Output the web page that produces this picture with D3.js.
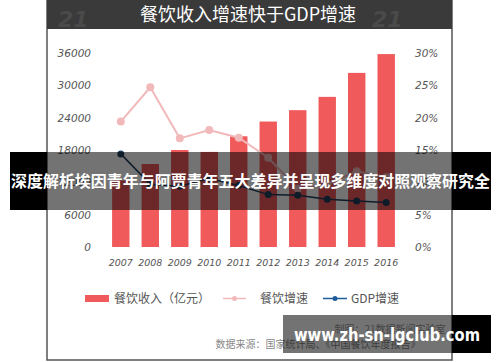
<!DOCTYPE html>
<html>
<head>
<meta charset="utf-8">
<script src="https://cdn.jsdelivr.net/npm/d3@7.9.0/dist/d3.min.js"></script>
<style>
  body { margin: 0; background: #fff; }
  svg { display: block; }
  .axis text { font-family: "DejaVu Sans", sans-serif; font-style: italic; fill: #555; }
  .cjk { font-family: "Noto Sans CJK SC", sans-serif; }
</style>
</head>
<body>
<svg id="chart" width="500" height="362"></svg>
<script>
const years = ['2007', '2008', '2009', '2010', '2011', '2012', '2013', '2014', '2015', '2016'];
const revenue = [12352, 15404, 17998, 17648, 20543, 23283, 25392, 27860, 32310, 35799];
const revenueGrowth = [19.4, 24.7, 16.8, 18.1, 16.9, 13.8, 9.0, 9.7, 11.7, 10.8];
const gdpGrowth = [14.4, 9.7, 9.4, 10.6, 9.5, 8.1, 8.0, 7.4, 7.1, 6.9];
const leftTicks = [0, 6000, 12000, 18000, 24000, 30000, 36000];
const rightTicks = [0, 5, 10, 15, 20, 25, 30];

const svg = d3.select('#chart');

// card + header
svg.append('rect')
  .attr('x', 47).attr('y', -2).attr('width', 405).attr('height', 362)
  .attr('fill', '#fff').attr('stroke', '#555').attr('stroke-width', 1.5);
svg.append('rect')
  .attr('x', 47).attr('y', 0).attr('width', 405).attr('height', 29)
  .attr('fill', '#3a3a3a');
svg.append('text')
  .attr('x', 58).attr('y', 27)
  .attr('font-family', 'DejaVu Sans').attr('font-style', 'italic').attr('font-weight', 'bold')
  .attr('font-size', 22).attr('fill', '#4a4a4a')
  .text('21');
svg.append('text')
  .attr('x', 372).attr('y', 27)
  .attr('font-family', 'DejaVu Sans').attr('font-style', 'italic').attr('font-weight', 'bold')
  .attr('font-size', 22).attr('fill', '#4a4a4a')
  .text('21');
svg.append('text')
  .attr('class', 'cjk')
  .attr('x', 248).attr('y', 21)
  .attr('text-anchor', 'middle')
  .attr('font-size', 18).attr('fill', '#fff')
  .text('餐饮收入增速快于GDP增速');

// scales
const x = d3.scaleBand().domain(years).range([100, 407]).padding(0.41);
const yL = d3.scaleLinear().domain([0, 36000]).range([247, 53]);
const yR = d3.scaleLinear().domain([0, 30]).range([247, 53]);

// axes
const leftAxis = svg.append('g')
  .attr('class', 'axis')
  .attr('transform', 'translate(91,0)')
  .call(d3.axisLeft(yL).tickValues(leftTicks).tickSize(0).tickPadding(0).tickFormat(d3.format('d')));
leftAxis.select('.domain').remove();
leftAxis.selectAll('text').attr('font-size', 10.5);

const rightAxis = svg.append('g')
  .attr('class', 'axis')
  .attr('transform', 'translate(415,0)')
  .call(d3.axisRight(yR).tickValues(rightTicks).tickSize(0).tickPadding(0).tickFormat(d => d + '%'));
rightAxis.select('.domain').remove();
rightAxis.selectAll('text').attr('font-size', 10.5);

const bottomAxis = svg.append('g')
  .attr('class', 'axis')
  .attr('transform', 'translate(0,257)')
  .call(d3.axisBottom(x).tickSize(0).tickPadding(0));
bottomAxis.select('.domain').remove();
bottomAxis.selectAll('text').attr('font-size', 9.5).attr('dy', '0.9em');

// bars
svg.append('g').selectAll('rect')
  .data(years)
  .join('rect')
  .attr('x', d => x(d))
  .attr('y', (d, i) => yL(revenue[i]))
  .attr('width', x.bandwidth())
  .attr('height', (d, i) => yL(0) - yL(revenue[i]))
  .attr('fill', '#f05a5a');

const cx = d => x(d) + x.bandwidth() / 2;

// pink line
const pinkLine = d3.line().x(d => cx(d)).y((d, i) => yR(revenueGrowth[i]));
svg.append('path')
  .attr('d', pinkLine(years))
  .attr('fill', 'none').attr('stroke', '#f2b9bb').attr('stroke-width', 2);
svg.append('g').selectAll('circle')
  .data(years)
  .join('circle')
  .attr('cx', cx)
  .attr('cy', (d, i) => yR(revenueGrowth[i]))
  .attr('r', 4)
  .attr('fill', '#f2b9bb');

// blue line
const blueLine = d3.line().x(d => cx(d)).y((d, i) => yR(gdpGrowth[i]));
svg.append('path')
  .attr('d', blueLine(years))
  .attr('fill', 'none').attr('stroke', '#1f3d5c').attr('stroke-width', 1.5);
svg.append('g').selectAll('circle')
  .data(years)
  .join('circle')
  .attr('cx', cx)
  .attr('cy', (d, i) => yR(gdpGrowth[i]))
  .attr('r', 3.5)
  .attr('fill', '#1f3d5c');

// legend
const legend = svg.append('g').attr('class', 'cjk').attr('font-size', 12).attr('fill', '#555');
legend.append('rect').attr('x', 85).attr('y', 295).attr('width', 24).attr('height', 7).attr('fill', '#f05a5a');
legend.append('text').attr('x', 114).attr('y', 302.5).text('餐饮收入（亿元）');
legend.append('line').attr('x1', 223).attr('x2', 246).attr('y1', 298.5).attr('y2', 298.5)
  .attr('stroke', '#f2b9bb').attr('stroke-width', 1.5);
legend.append('circle').attr('cx', 234.5).attr('cy', 298.5).attr('r', 2.5).attr('fill', '#f2b9bb');
legend.append('text').attr('x', 260).attr('y', 302.5).text('餐饮增速');
legend.append('line').attr('x1', 323).attr('x2', 347).attr('y1', 298.5).attr('y2', 298.5)
  .attr('stroke', '#1f5c9c').attr('stroke-width', 1.5);
legend.append('circle').attr('cx', 335).attr('cy', 298.5).attr('r', 2.5).attr('fill', '#1f5c9c');
legend.append('text').attr('x', 351).attr('y', 302.5).text('GDP增速');

// credits
svg.append('text').attr('class', 'cjk')
  .attr('x', 390).attr('y', 333).attr('text-anchor', 'middle')
  .attr('font-size', 10).attr('fill', '#999')
  .text('制图：21数据新闻实验室');
svg.append('text').attr('class', 'cjk')
  .attr('x', 318).attr('y', 348).attr('text-anchor', 'middle')
  .attr('font-size', 10).attr('fill', '#888')
  .text('数据来源：国家统计局、《中国餐饮年度报告》');

// overlay banner
svg.append('rect').attr('x', 10).attr('y', 152).attr('width', 37).attr('height', 58).attr('fill', '#000');
svg.append('rect').attr('x', 452).attr('y', 152).attr('width', 39).attr('height', 58).attr('fill', '#000');
svg.append('rect').attr('x', 47).attr('y', 152).attr('width', 405).attr('height', 58)
  .attr('fill', '#000').attr('opacity', 0.55);
svg.append('text').attr('class', 'cjk')
  .attr('x', 250.5).attr('y', 187).attr('text-anchor', 'middle')
  .attr('font-size', 15.5).attr('font-weight', 'bold').attr('fill', '#fff')
  .attr('textLength', 479).attr('lengthAdjust', 'spacingAndGlyphs')
  .text('深度解析埃因青年与阿贾青年五大差异并呈现多维度对照观察研究全');

// watermark box
svg.append('rect').attr('x', 452).attr('y', 315).attr('width', 39).attr('height', 38).attr('fill', '#000');
svg.append('rect').attr('x', 283).attr('y', 315).attr('width', 169).attr('height', 38)
  .attr('fill', '#000').attr('opacity', 0.55);
svg.append('text')
  .attr('x', 387).attr('y', 341).attr('text-anchor', 'middle')
  .attr('font-family', 'DejaVu Sans').attr('font-weight', 'bold')
  .attr('font-size', 18).attr('fill', '#fff')
  .attr('textLength', 186).attr('lengthAdjust', 'spacingAndGlyphs')
  .text('www.zh-sn-lgclub.com');
</script>
</body>
</html>
